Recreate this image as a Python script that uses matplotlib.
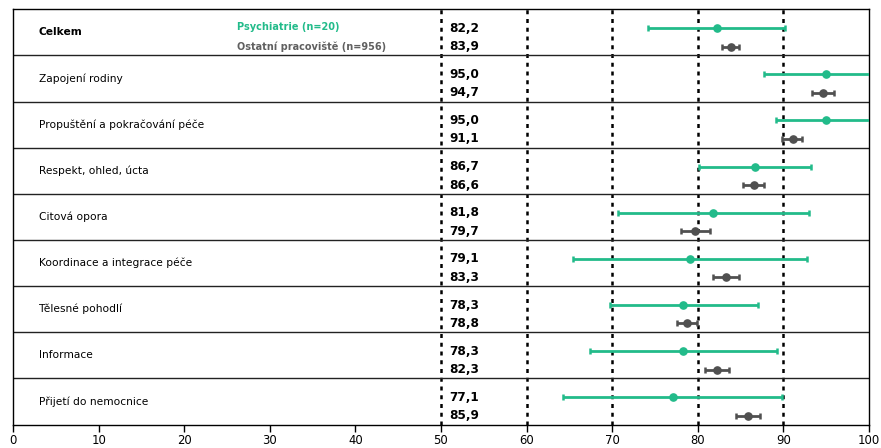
import matplotlib
matplotlib.use("Agg")
import matplotlib.pyplot as plt

categories = ["Celkem", "Zapojení rodiny", "Propuštění a pokračování péče",
              "Respekt, ohled, úcta", "Citová opora", "Koordinace a integrace péče",
              "Tělesné pohodlí", "Informace", "Přijetí do nemocnice"]
psy_mean = [82.2, 95.0, 95.0, 86.7, 81.8, 79.1, 78.3, 78.3, 77.1]
psy_low = [74.2, 87.8, 89.1, 80.1, 70.7, 65.4, 69.8, 67.4, 64.3]
psy_high = [90.2, 102.2, 100.9, 93.2, 93.0, 92.8, 87.0, 89.3, 89.8]
oth_mean = [83.9, 94.7, 91.1, 86.6, 79.7, 83.3, 78.8, 82.3, 85.9]
oth_low = [82.9, 93.4, 89.9, 85.3, 78.0, 81.8, 77.6, 80.9, 84.5]
oth_high = [84.8, 95.9, 92.2, 87.8, 81.4, 84.8, 79.9, 83.7, 87.3]
legend_labels = ["Psychiatrie (n=20)", "Ostatní pracoviště (n=956)"]
xticks = [0, 10, 20, 30, 40, 50, 60, 70, 80, 90, 100]
ref_lines = [50, 60, 70, 80, 90]

GREEN = "#22bb8a"
GREY = "#505050"

plt.rcParams['font.family'] = ['DejaVu Sans']
fig = plt.figure(figsize=(8.81, 4.48), dpi=100)
ax = fig.add_axes([13.2 / 881, 1 - 424.5 / 448, (868.8 - 13.2) / 881, (424.5 - 9.3) / 448])

n = len(categories)
ax.set_xlim(0, 100)
ax.set_ylim(n, 0)

for v in ref_lines:
    ax.axvline(v, color="black", lw=1.8, linestyle=(0, (1.6, 1.9)), zorder=1)
for i in range(1, n):
    ax.axhline(i, color="#222222", lw=1.0, zorder=1)

def fmt(v):
    return f"{v:.1f}".replace(".", ",")

for i, cat in enumerate(categories):
    yg = i + 0.41
    yo = i + 0.81
    ax.errorbar(psy_mean[i], yg,
                xerr=[[psy_mean[i] - psy_low[i]], [psy_high[i] - psy_mean[i]]],
                fmt="o", color=GREEN, ms=5.2, lw=2, capsize=2.3, capthick=1.8, zorder=3)
    ax.errorbar(oth_mean[i], yo,
                xerr=[[oth_mean[i] - oth_low[i]], [oth_high[i] - oth_mean[i]]],
                fmt="o", color=GREY, ms=5.2, lw=2, capsize=2.3, capthick=1.8, zorder=3)
    ax.text(3.0, i + 0.5, cat, ha="left", va="center", fontsize=7.7,
            fontweight="bold" if i == 0 else "normal", color="black")
    ax.text(51.0, yg, fmt(psy_mean[i]), ha="left", va="center", fontsize=8.7,
            fontweight="bold", color="black")
    ax.text(51.0, yo, fmt(oth_mean[i]), ha="left", va="center", fontsize=8.7,
            fontweight="bold", color="black")

ax.text(26.1, 0.38, legend_labels[0], ha="left", va="center", fontsize=7.0,
        fontweight="bold", color=GREEN)
ax.text(26.1, 0.81, legend_labels[1], ha="left", va="center", fontsize=7.0,
        fontweight="bold", color="#606060")

ax.set_xticks(xticks)
ax.set_xticklabels([str(t) for t in xticks])
ax.set_yticks([])
ax.tick_params(axis="x", length=5, width=1, pad=2, labelsize=8.4, colors="black")
for s in ax.spines.values():
    s.set_color("black")
    s.set_linewidth(1.0)

fig.savefig("out.png", dpi=100)
